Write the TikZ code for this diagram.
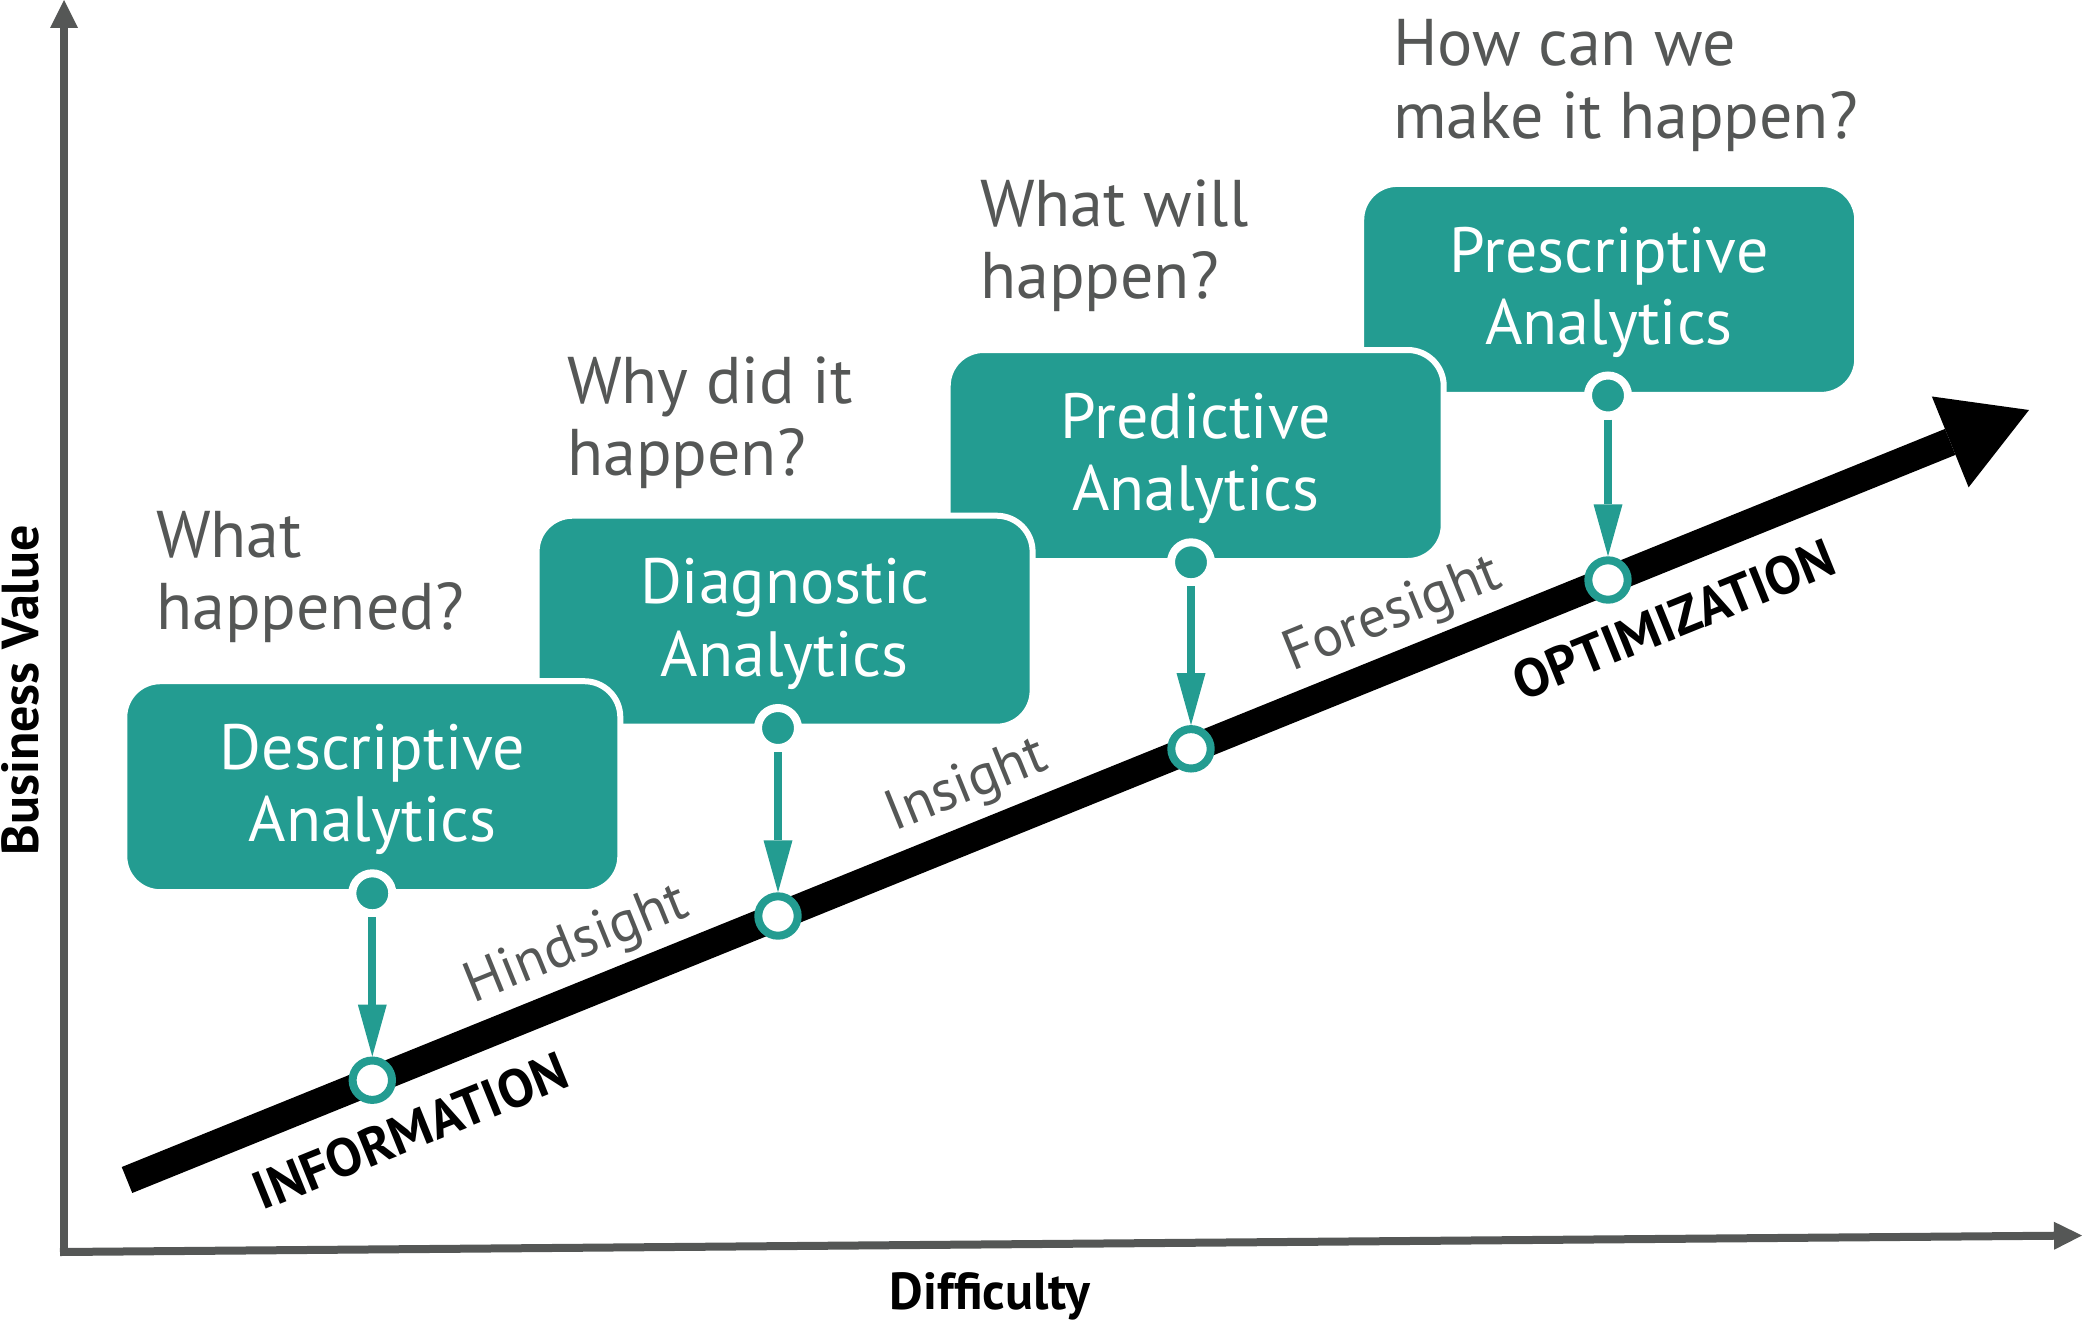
\documentclass[tikz,border=0pt]{standalone}
\usepackage{fontspec}
\setmainfont{PT Sans}
\usetikzlibrary{arrows.meta}
\definecolor{tealc}{RGB}{35,156,145}
\definecolor{qgray}{RGB}{85,87,86}
\begin{document}
\begin{tikzpicture}[x=1pt,y=-1pt,
  box/.style={rectangle, rounded corners=36pt, fill=tealc, draw=white, line width=6pt,
    minimum width=496pt, minimum height=211pt, inner sep=0pt, text=white,
    text height=59.5pt, font=\fontsize{64pt}{72.4pt}\selectfont},
  question/.style={anchor=base west, inner sep=0pt, text=qgray,
    font=\fontsize{66pt}{72.5pt}\selectfont},
  dot/.style={circle, fill=tealc, draw=white, line width=8pt, minimum size=40pt, inner sep=0pt},
  ring/.style={circle, fill=white, draw=tealc, line width=8pt, minimum size=39.4pt, inner sep=0pt},
  link/.style={draw=tealc, line width=8pt, -{Triangle[length=52pt,width=29pt,line width=0pt]}},
  axis/.style={draw=qgray, line width=8pt, -{Triangle[length=28pt,width=28pt,line width=0pt]}},
  stage/.style={text=qgray, inner sep=0pt, rotate=22.05, font=\fontsize{57pt}{60pt}\selectfont},
  phase/.style={text=black, inner sep=0pt, rotate=22.05, font=\bfseries\fontsize{53.5pt}{56pt}\selectfont},
  axlabel/.style={text=black, inner sep=0pt, font=\bfseries\fontsize{52pt}{56pt}\selectfont}
]
\useasboundingbox (0,0) rectangle (2082,1322);
% axes
\coordinate (ybot) at (64,1256);
\coordinate (ytip) at (64,0);
\coordinate (xstart) at (60,1252);
\coordinate (xtip) at (2082,1235.5);
\draw[axis] (ybot) -- (ytip);
\draw[axis] (xstart) -- (xtip);
\node[axlabel, rotate=90] (bv) at (20,690.5) {Business Value};
\node[axlabel, anchor=base] (df) at (990,1309) {Difficulty};
% main arrow
\coordinate (bs) at (127,1180);
\coordinate (bt) at (2029,410);
\draw[black, line width=28pt, -{Triangle[length=85pt,width=98pt,line width=0pt]}] (bs) -- (bt);
% boxes (back to front)
\node[box] (presc) at (1609.2,289.4) {\begin{tabular}[t]{@{}c@{}}Prescriptive\\Analytics\end{tabular}};
\node[box] (pred) at (1195.7,455.5) {\begin{tabular}[t]{@{}c@{}}Predictive\\Analytics\end{tabular}};
\node[box] (diag) at (784.6,621.2) {\begin{tabular}[t]{@{}c@{}}Diagnostic\\Analytics\end{tabular}};
\node[box] (desc) at (372.3,786.7) {\begin{tabular}[t]{@{}c@{}}Descriptive\\Analytics\end{tabular}};
% dots and rings
\node[dot] (d1) at (372.3,893.3) {};
\node[dot] (d2) at (778,728) {};
\node[dot] (d3) at (1191,562.3) {};
\node[dot] (d4) at (1608,395.5) {};
\node[ring] (r1) at (372.3,1080.2) {};
\node[ring] (r2) at (778,916) {};
\node[ring] (r3) at (1191,748.8) {};
\node[ring] (r4) at (1608,580) {};
\draw[link] (d1) -- (r1);
\draw[link] (d2) -- (r2);
\draw[link] (d3) -- (r3);
\draw[link] (d4) -- (r4);
% questions
\node[question] (q1) at (156,557) {\begin{tabular}[t]{@{}l@{}}What\\happened?\end{tabular}};
\node[question] (q2) at (567,403) {\begin{tabular}[t]{@{}l@{}}Why did it\\happen?\end{tabular}};
\node[question] (q3) at (980,226) {\begin{tabular}[t]{@{}l@{}}What will\\happen?\end{tabular}};
\node[question] (q4) at (1393,66) {\begin{tabular}[t]{@{}l@{}}How can we\\make it happen?\end{tabular}};
% labels along the arrow
\node[stage] (hind) at (577.1,945.9) {Hindsight};
\node[stage] (ins) at (967.4,786.8) {Insight};
\node[stage] (fore) at (1392.8,615.6) {Foresight};
\node[phase] (info) at (410.4,1131) {INFORMATION};
\node[phase] (opti) at (1673.8,619.5) {OPTIMIZATION};
\end{tikzpicture}
\end{document}
